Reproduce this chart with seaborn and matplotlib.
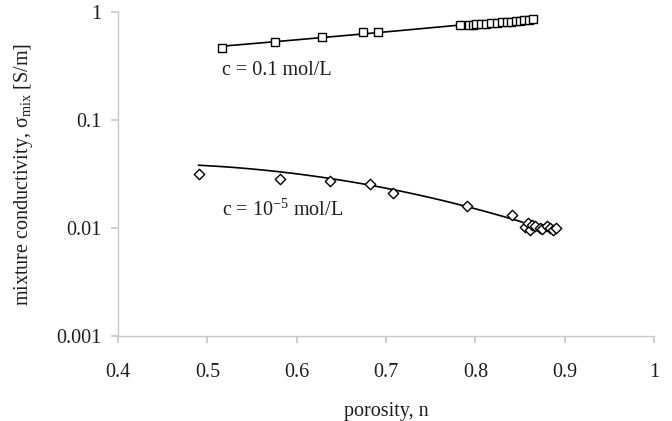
import numpy as np
import pandas as pd
import matplotlib
matplotlib.use("Agg")
import matplotlib.pyplot as plt
import seaborn as sns

# ---- data ----
n_high = [0.516, 0.576, 0.628, 0.674, 0.691, 0.783, 0.793, 0.797, 0.801, 0.806,
          0.812, 0.818, 0.824, 0.830, 0.835, 0.840, 0.845, 0.850, 0.855, 0.860, 0.865]
s_high = [0.460, 0.525, 0.585, 0.650, 0.655, 0.760, 0.755, 0.765, 0.770, 0.775,
          0.780, 0.790, 0.795, 0.800, 0.810, 0.815, 0.820, 0.830, 0.835, 0.845, 0.860]

n_low = [0.491, 0.581, 0.637, 0.682, 0.708, 0.791, 0.841,
         0.856, 0.859, 0.861, 0.863, 0.867, 0.872, 0.875, 0.880, 0.884, 0.887, 0.890]
s_low = [0.0316, 0.0284, 0.0275, 0.0255, 0.0211, 0.0160, 0.0132,
         0.0102, 0.0112, 0.0096, 0.0106, 0.0104, 0.0100, 0.0098, 0.0105, 0.0099, 0.0095, 0.0101]

# model curves
model_high_n = [0.514, 0.628, 0.783, 0.867]
model_high_s = [0.474, 0.600, 0.726, 0.900]
model_low_n = [0.490, 0.637, 0.708, 0.791, 0.853]
model_low_s = [0.0383, 0.0284, 0.0225, 0.0163, 0.0111]

xticks = [0.4, 0.5, 0.6, 0.7, 0.8, 0.9, 1.0]
xticklabels = ["0.4", "0.5", "0.6", "0.7", "0.8", "0.9", "1"]
yticks = [0.001, 0.01, 0.1, 1]
yticklabels = ["0.001", "0.01", "0.1", "1"]

sns.set_theme(style="white")
plt.rcParams['font.family'] = ['Liberation Serif', 'DejaVu Serif']
plt.rcParams['mathtext.fontset'] = 'custom'
plt.rcParams['mathtext.rm'] = 'Liberation Serif'
plt.rcParams['mathtext.it'] = 'Liberation Serif:italic'

FS = 14.5
TXT = "#1e1e1e"

fig = plt.figure(figsize=(6.72, 4.21), dpi=100)
ax = fig.add_axes([118/672, 1 - 336/421, (654-118)/672, (336-12)/421])

def smooth(nx, sy, deg):
    c = np.polyfit(nx, np.log10(sy), deg)
    xs = np.linspace(min(nx), max(nx), 100)
    return pd.DataFrame({"n": xs, "s": 10 ** np.polyval(c, xs)})

dh = smooth(model_high_n, model_high_s, 2)
dl = smooth(model_low_n, model_low_s, 2)
sns.lineplot(data=dh, x="n", y="s", ax=ax, color="black", lw=1.2)
sns.lineplot(data=dl, x="n", y="s", ax=ax, color="black", lw=1.2)

sns.scatterplot(x=n_high, y=s_high, ax=ax, marker="s", s=38,
                facecolor="white", edgecolor="black", linewidth=1.0, zorder=3)
sns.scatterplot(x=n_low, y=s_low, ax=ax, marker="D", s=28,
                facecolor="white", edgecolor="black", linewidth=1.0, zorder=3)

ax.set_yscale("log")
ax.set_xlim(0.4, 1.0)
ax.set_ylim(0.001, 1)
ax.set_xticks(xticks)
ax.set_xticklabels(xticklabels)
ax.set_yticks(yticks)
ax.set_yticklabels(yticklabels)
ax.yaxis.set_minor_locator(matplotlib.ticker.NullLocator())

for side in ["top", "right"]:
    ax.spines[side].set_visible(False)
for side in ["left", "bottom"]:
    ax.spines[side].set_color("#c8c8c8")
    ax.spines[side].set_linewidth(1.0)
ax.tick_params(axis="both", direction="out", length=5, color="#c8c8c8",
               labelsize=FS, labelcolor=TXT, bottom=True, left=True)
ax.tick_params(axis="x", pad=14.5)
ax.tick_params(axis="y", pad=7)

ax.set_xlabel("porosity, n", fontsize=FS, color=TXT, labelpad=14)
ax.set_ylabel(r"mixture conductivity, σ$_{\mathrm{mix}}$ [S/m]", fontsize=FS,
              color=TXT, labelpad=15)

ax.text(0.5164, 0.290, "c = 0.1 mol/L", fontsize=FS, color=TXT, ha="left", va="center")
ax.text(0.5164, 0.01468, r"c = 10$^{-5}$ mol/L", fontsize=FS, color=TXT, ha="left", va="center")

fig.savefig("out.png", dpi=100)
